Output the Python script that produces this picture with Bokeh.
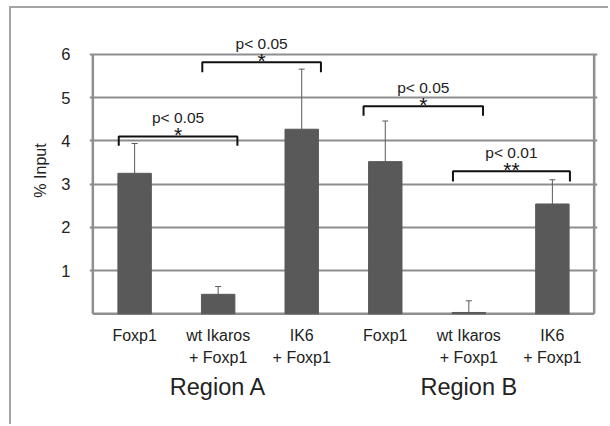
from bokeh.plotting import figure
from bokeh.models import FactorRange, Range1d, FixedTicker, Whisker, ColumnDataSource, TeeHead
from bokeh.core.properties import value
from bokeh.embed import file_html
from bokeh.resources import INLINE

# ---- data ----
regions = ["Region A", "Region A", "Region A", "Region B", "Region B", "Region B"]
conditions = ["Foxp1", "wt Ikaros\n+ Foxp1", "IK6\n+ Foxp1",
              "Foxp1", "wt Ikaros\n+ Foxp1", "IK6\n+ Foxp1"]
values = [3.25, 0.45, 4.27, 3.52, 0.03, 2.54]
err_upper = [3.94, 0.63, 5.66, 4.46, 0.30, 3.10]
y_ticks = [1, 2, 3, 4, 5, 6]

# significance brackets (x in category units, y in % input)
br_left = [0.31, 1.31, 3.24, 4.31]
br_right = [1.73, 2.73, 4.67, 5.71]
br_top = [4.10, 5.82, 4.80, 3.30]
br_bottom = [3.89, 5.59, 4.58, 3.06]
p_texts = ["p< 0.05", "p< 0.05", "p< 0.05", "p< 0.01"]
stars = ["*", "*", "*", "**"]

FONT = "Liberation Sans"

factors = list(zip(regions, conditions))
x_range = FactorRange(*factors, factor_padding=0, group_padding=0,
                      subgroup_padding=0, range_padding=0.04,
                      range_padding_units="absolute")

p = figure(x_range=x_range, y_range=Range1d(-0.04, 6.67),
           width=599, height=418, output_backend="svg", toolbar_location=None,
           min_border_left=78, min_border_right=13, min_border_top=17,
           min_border_bottom=111)
p.styles = {"border-left": "2px solid #a3a3a3", "border-top": "2px solid #a3a3a3",
            "margin-left": "9px", "margin-top": "6px"}
p.outline_line_color = None
p.background_fill_color = "white"

# grid
p.xgrid.grid_line_color = None
p.ygrid.ticker = FixedTicker(ticks=y_ticks)
p.ygrid.grid_line_color = "#8e8e8e"
p.ygrid.grid_line_width = 2

# box around the plotting area
p.segment(x0=[0, 6, 0], y0=[0, 0, 0], x1=[0, 6, 6], y1=[6, 6, 0],
          line_color="#8e8e8e", line_width=2.5)

# bars
src = ColumnDataSource(dict(x=factors, top=values, upper=err_upper))
p.vbar(x="x", top="top", bottom=0, width=0.4, source=src,
       fill_color="#595959", line_color="#595959")

# error bars (upper only)
w = Whisker(base="x", lower="top", upper="upper", source=src,
            line_color="#5a5a5a", line_width=1,
            upper_head=TeeHead(size=6, line_color="#5a5a5a", line_width=1),
            lower_head=None)
p.add_layout(w)

# brackets
xs = [[l, l, r, r] for l, r in zip(br_left, br_right)]
ys = [[b, t, t, b] for b, t in zip(br_bottom, br_top)]
p.multi_line(xs=xs, ys=ys, line_color="#111111", line_width=2)
mids = [(l + r) / 2 for l, r in zip(br_left, br_right)]
p.text(x=mids, y=br_top, text=p_texts, text_font=value(FONT),
       text_font_size="15.5px", text_color="#222222", text_align="center",
       text_baseline="middle", y_offset=-19)
p.text(x=mids, y=br_top, text=stars, text_font=value(FONT),
       text_font_size="21px", text_color="#111111", text_align="center",
       text_baseline="middle", y_offset=-2)

# y axis
p.yaxis.ticker = FixedTicker(ticks=y_ticks)
p.yaxis.axis_line_color = None
p.yaxis.major_tick_line_color = None
p.yaxis.minor_tick_line_color = None
p.yaxis.major_label_standoff = 13
p.yaxis.major_label_text_font = FONT
p.yaxis.major_label_text_font_size = "16.5px"
p.yaxis.major_label_text_color = "#222222"
p.yaxis.axis_label = "% Input"
p.yaxis.axis_label_text_font = FONT
p.yaxis.axis_label_text_font_size = "16px"
p.yaxis.axis_label_text_font_style = "normal"
p.yaxis.axis_label_text_color = "#222222"
p.yaxis.axis_label_standoff = 9

# x axis
p.xaxis.axis_line_color = None
p.xaxis.major_tick_line_color = None
p.xaxis.minor_tick_line_color = None
p.xaxis.major_label_standoff = 5
p.xaxis.major_label_orientation = "horizontal"
p.xaxis.major_label_text_font = FONT
p.xaxis.major_label_text_font_size = "16px"
p.xaxis.major_label_text_color = "#222222"
p.xaxis.major_label_text_line_height = 1.3
p.xaxis.group_text_font = FONT
p.xaxis.group_text_font_size = "23.5px"
p.xaxis.group_text_font_style = "normal"
p.xaxis.group_text_color = "#222222"
p.xaxis.group_label_orientation = "horizontal"
p.xaxis.separator_line_color = None

open("out.html", "w").write(file_html(p, INLINE))
